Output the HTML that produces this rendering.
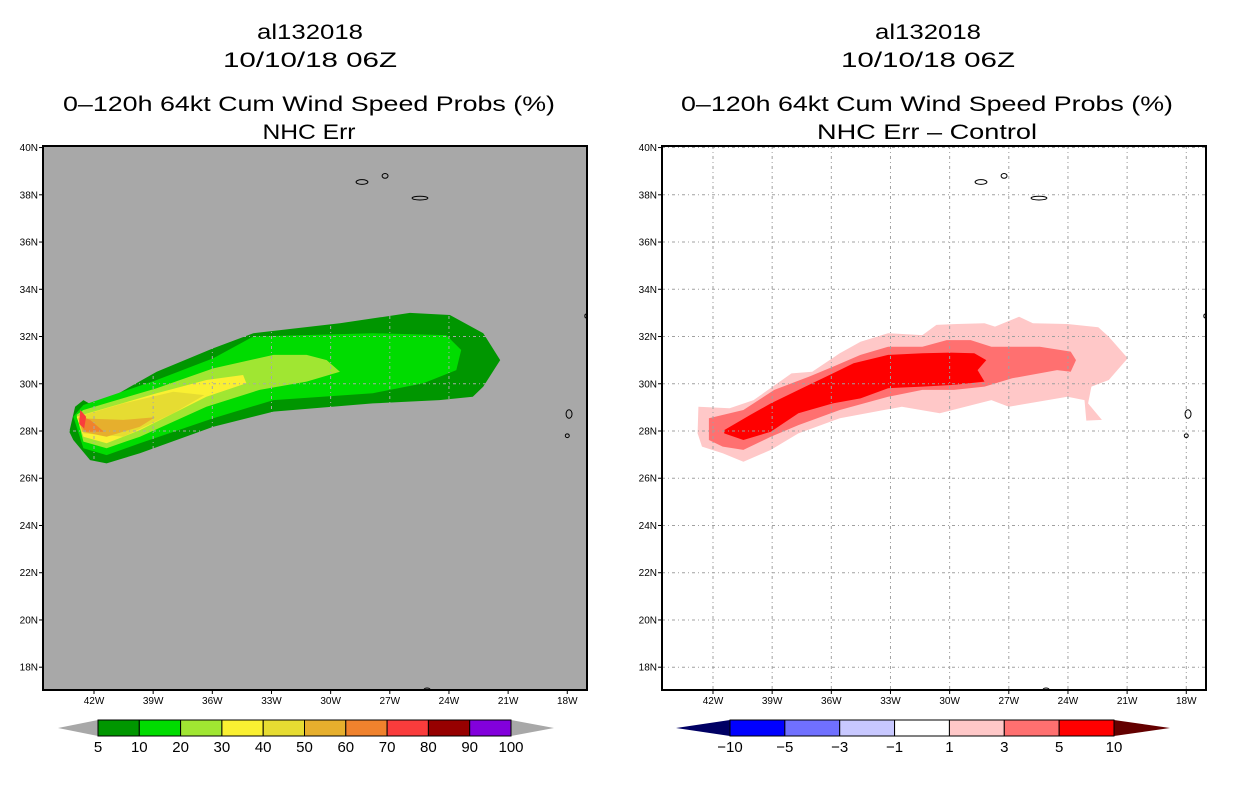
<!DOCTYPE html>
<html><head><meta charset="utf-8"><style>
body{margin:0;background:#fff;}
svg{display:block;font-family:"Liberation Sans",sans-serif;}
</style></head><body>
<svg id="c" width="1236" height="800" viewBox="0 0 1236 800" xmlns="http://www.w3.org/2000/svg">
<g font-size="21" text-anchor="middle" fill="#000" lengthAdjust="spacingAndGlyphs">
<text x="310" y="39" textLength="106" lengthAdjust="spacingAndGlyphs">al132018</text><text x="310" y="67" textLength="174" lengthAdjust="spacingAndGlyphs">10/10/18 06Z</text>
<text x="309" y="111" textLength="492" lengthAdjust="spacingAndGlyphs">0–120h 64kt Cum Wind Speed Probs (%)</text><text x="309" y="139" textLength="93" lengthAdjust="spacingAndGlyphs">NHC Err</text></g>
<g font-size="21" text-anchor="middle" fill="#000">
<text x="928" y="39" textLength="106" lengthAdjust="spacingAndGlyphs">al132018</text><text x="928" y="67" textLength="174" lengthAdjust="spacingAndGlyphs">10/10/18 06Z</text>
<text x="927" y="111" textLength="492" lengthAdjust="spacingAndGlyphs">0–120h 64kt Cum Wind Speed Probs (%)</text><text x="927" y="139" textLength="220" lengthAdjust="spacingAndGlyphs">NHC Err – Control</text></g>
<g id="L"></g><g id="R"></g><g id="CB"></g>
</svg>
<script>
const lonTicks=[-42,-39,-36,-33,-30,-27,-24,-21,-18];
const latTicks=[18,20,22,24,26,28,30,32,34,36,38,40];
// left contour levels
const leftLevels=[5,10,20,30,40,50,60,70];
const leftColors=["#009600","#00dc00","#a0e632","#faf032","#e6dc32","#e6af2d","#f0822d","#fa3c3c"];
const left5=[[-43.25,27.97],[-42.96,29.03],[-42.54,29.31],[-41.95,29.03],[-38.82,30.51],[-35.95,31.5],[-33.92,32.14],[-29.53,32.56],[-25.98,33.0],[-23.95,32.91],[-22.26,32.14],[-21.4,31.0],[-22.26,29.88],[-22.79,29.45],[-24.48,29.31],[-27.86,29.17],[-32.9,28.82],[-35.95,28.18],[-39.67,27.06],[-41.36,26.63],[-42.2,26.77],[-43.05,27.62]];
const left10=[[-43.05,28.61],[-42.54,29.1],[-38.82,30.16],[-35.95,31.08],[-33.92,32.0],[-27.86,32.14],[-24.14,32.06],[-23.38,31.43],[-23.63,30.58],[-25.3,30.02],[-27.86,29.6],[-32.9,29.31],[-35.95,28.54],[-39.67,27.48],[-41.36,26.98],[-42.54,27.27]];
const left20=[[-42.88,28.68],[-42.54,28.89],[-38.82,29.81],[-35.95,30.65],[-32.9,31.22],[-31.22,31.22],[-30.2,31.0],[-29.53,30.51],[-31.22,30.09],[-33.6,29.74],[-36.3,29.03],[-39.67,27.76],[-41.36,27.27],[-42.54,27.55]];
const left30=[[-42.88,28.61],[-38.82,29.6],[-36.3,30.16],[-34.44,30.37],[-34.27,30.02],[-36.3,29.45],[-39.67,28.04],[-41.36,27.48],[-42.54,27.76]];
const left40=[[-42.8,28.61],[-40.51,29.17],[-37.98,29.66],[-36.4,29.52],[-37.98,28.75],[-40.51,27.76],[-42.54,27.9]];
const left50=[[-42.8,28.54],[-40.51,28.47],[-38.91,28.58],[-39.67,28.18],[-41.36,27.76],[-42.6,27.97]];
const left60=[[-42.7,28.64],[-42.2,28.47],[-41.5,27.97],[-42.5,27.97]];
const left70=[[-42.7,28.9],[-42.4,28.6],[-42.5,28.1],[-42.75,28.3]];
const leftPolys=[left5,left10,left20,left30,left40,left50,left60,left70];
// right (difference) contours
const rightLevels=[1,3,5];
const rightColors=["#ffc8c8","#ff7070","#ff0000"];
const right1=[[-42.74,29.03],[-41.16,28.96],[-39.94,29.31],[-38.02,30.44],[-36.97,30.51],[-35.57,31.29],[-34.52,31.78],[-33.12,32.14],[-31.38,32.06],[-30.67,32.49],[-29.62,32.53],[-28.23,32.56],[-27.7,32.42],[-26.48,32.84],[-25.78,32.56],[-24.03,32.53],[-22.46,32.39],[-21.93,31.99],[-20.97,31.08],[-21.93,30.16],[-22.81,29.88],[-22.98,29.17],[-22.28,28.47],[-23.07,28.44],[-23.16,29.31],[-24.03,29.45],[-27.0,29.03],[-27.88,29.31],[-30.5,28.75],[-32.42,29.03],[-35.57,28.54],[-37.67,27.9],[-39.07,27.2],[-40.46,26.7],[-41.51,27.06],[-42.56,27.34],[-42.78,27.9]];
const right3=[[-42.21,28.54],[-40.46,28.89],[-38.89,29.74],[-37.14,30.3],[-35.92,30.72],[-34.52,31.22],[-33.12,31.57],[-31.38,31.57],[-30.15,31.85],[-28.93,31.85],[-27.88,31.57],[-27.0,31.57],[-25.43,31.57],[-23.86,31.36],[-23.59,31.0],[-23.86,30.51],[-24.55,30.58],[-26.83,30.23],[-28.23,29.88],[-29.78,29.74],[-31.38,29.74],[-33.12,29.45],[-35.57,28.89],[-37.67,28.25],[-39.07,27.76],[-40.46,27.2],[-41.51,27.34],[-42.21,27.62]];
const right5=[[-41.43,28.04],[-40.11,28.68],[-39.07,29.17],[-37.32,29.88],[-35.92,30.44],[-34.87,30.87],[-33.12,31.22],[-31.38,31.29],[-29.97,31.32],[-28.75,31.29],[-28.14,31.0],[-28.58,30.58],[-28.23,30.09],[-29.78,29.95],[-31.38,29.88],[-33.12,29.81],[-34.52,29.38],[-35.92,29.17],[-37.67,28.75],[-39.07,27.97],[-40.46,27.62],[-41.43,27.9]];
const rightPolys=[right1,right3,right5];
const islands=[[-28.41,38.54,0.3,0.1],[-27.24,38.8,0.15,0.1],[-25.47,37.86,0.4,0.08],[-17.91,28.72,0.15,0.18],[-18.0,27.8,0.1,0.08],[-17.05,32.87,0.06,0.08],[-25.11,17.06,0.15,0.06]];
const leftCbLabels=["5","10","20","30","40","50","60","70","80","90","100"];
const leftCbColors=["#009600","#00dc00","#a0e632","#faf032","#e6dc32","#e6af2d","#f0822d","#fa3c3c","#960000","#8200dc"];
const rightCbLabels=["−10","−5","−3","−1","1","3","5","10"];
const rightCbColors=["#0000ff","#7070ff","#c8c8ff","#ffffff","#ffc8c8","#ff7070","#ff0000"];

const NS="http://www.w3.org/2000/svg";
function mk(p,t,a){const e=document.createElementNS(NS,t);for(const k in a)e.setAttribute(k,a[k]);p.appendChild(e);return e;}
function panel(gid,x0,bg,polys,colors,name){
  const g=document.getElementById(gid);
  const X=lon=>x0+51+(lon+42)*19.72, Y=lat=>431-(lat-28)*23.62;
  const bgR=mk(g,'rect',{x:x0,y:146,width:544,height:544,fill:bg});
  
  
  mk(g,'clipPath',{id:gid+'clip'}).appendChild(document.createElementNS(NS,'rect'));
  const cr=g.querySelector('clipPath rect');cr.setAttribute('x',x0);cr.setAttribute('y',146);cr.setAttribute('width',544);cr.setAttribute('height',544);
  polys.forEach((poly,i)=>{
    const p=mk(g,'polygon',{points:poly.map(v=>X(v[0]).toFixed(1)+','+Y(v[1]).toFixed(1)).join(' '),fill:colors[i]});
    
    
  });
  const gc=bg==='#fff'?'#a0a0a0':'#a8a8a8';
  lonTicks.forEach(l=>{
    const ln=mk(g,'line',{x1:X(l),x2:X(l),y1:146,y2:690,stroke:gc,'stroke-width':1,'stroke-dasharray':'3,3,1,3'});
    
    
    mk(g,'line',{x1:X(l),x2:X(l),y1:690,y2:694,stroke:'#000'});
    const t=mk(g,'text',{x:X(l),y:704,'font-size':10,'text-anchor':'middle'});t.textContent=(-l)+'W';
    
    
  });
  latTicks.forEach(l=>{
    const ln=mk(g,'line',{x1:x0,x2:x0+544,y1:Y(l),y2:Y(l),stroke:gc,'stroke-width':1,'stroke-dasharray':'3,3,1,3'});
    
    
    mk(g,'line',{x1:x0-4,x2:x0,y1:Y(l),y2:Y(l),stroke:'#000'});
    const t=mk(g,'text',{x:x0-5,y:Y(l)+3.5,'font-size':10,'text-anchor':'end'});t.textContent=l+'N';
    
    
  });
  islands.forEach(s=>{
    const e=mk(g,'ellipse',{cx:X(s[0]),cy:Y(s[1]),rx:s[2]*19.72,ry:s[3]*23.62,fill:'none',stroke:'#000','stroke-width':1,'clip-path':'url(#'+gid+'clip)'});
    
    
  });
  const fr=mk(g,'rect',{x:x0,y:146,width:544,height:544,fill:'none',stroke:'#000','stroke-width':2});
  
  
}
panel('L',43,'#a8a8a8',leftPolys,leftColors,'left-map');
panel('R',662,'#fff',rightPolys,rightColors,'right-map');

function colorbar(x0,x1,tipL,tipR,colors,labels,lc,rc,name){
  const g=document.getElementById('CB');const y0=720,y1=736,ym=728;
  const w=(x1-x0)/colors.length;
  const a=mk(g,'polygon',{points:`${tipL},${ym} ${x0},${y0} ${x0},${y1}`,fill:lc});
  
  
  const b=mk(g,'polygon',{points:`${tipR},${ym} ${x1},${y0} ${x1},${y1}`,fill:rc});
  
  
  colors.forEach((c,i)=>{
    const r=mk(g,'rect',{x:x0+i*w,y:y0,width:w,height:y1-y0,fill:c,stroke:'#000','stroke-width':1});
    
    
  });
  labels.forEach((s,i)=>{
    const t=mk(g,'text',{x:x0+i*w,y:752,'font-size':15,'text-anchor':'middle'});t.textContent=s;
    
    
  });
}
colorbar(98,511,58,554,leftCbColors,leftCbLabels,'#a8a8a8','#a8a8a8','left-colorbar');
colorbar(730,1114,676,1170,rightCbColors,rightCbLabels,'#000064','#640000','right-colorbar');
</script>
</body></html>
